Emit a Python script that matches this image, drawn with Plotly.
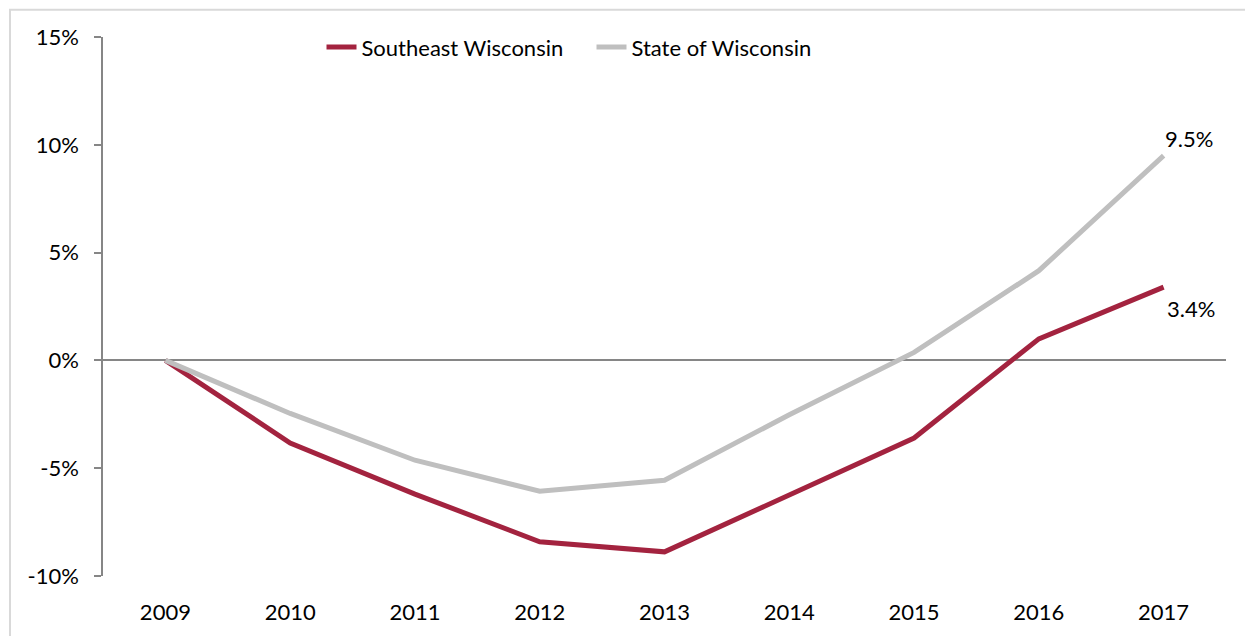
import plotly.graph_objects as go

years = ["2009", "2010", "2011", "2012", "2013", "2014", "2015", "2016", "2017"]
southeast = [0.0, -3.83, -6.2, -8.41, -8.88, -6.26, -3.6, 1.0, 3.4]
state = [0.0, -2.46, -4.63, -6.07, -5.56, -2.52, 0.37, 4.16, 9.5]
y_ticks = [-10, -5, 0, 5, 10, 15]
y_tick_labels = ["-10%", "-5%", "0%", "5%", "10%", "15%"]
end_labels = ["9.5%", "3.4%"]

RED = "#A3233F"
GRAY = "#BFBFBF"
FONT = "Lato"

fig = go.Figure()
fig.add_trace(go.Scatter(x=years, y=southeast, mode="lines", name="Southeast Wisconsin",
                         line=dict(color=RED, width=5)))
fig.add_trace(go.Scatter(x=years, y=state, mode="lines", name="State of Wisconsin",
                         line=dict(color=GRAY, width=5)))

last = len(years) - 1  # category index for annotations
fig.add_annotation(x=last, y=state[-1], text=end_labels[0], showarrow=False,
                   xanchor="left", yanchor="bottom", xshift=-1, yshift=2,
                   font=dict(family=FONT, size=22, color="black"))
fig.add_annotation(x=last, y=southeast[-1], text=end_labels[1], showarrow=False,
                   xanchor="left", yanchor="top", xshift=1, yshift=-6,
                   font=dict(family=FONT, size=22, color="black"))

# chart border (extends past right/bottom edge like the reference)
fig.add_shape(type="rect", xref="paper", yref="paper",
              x0=-0.0828, x1=1.06, y0=-0.2, y1=1.0505,
              line=dict(color="#D9D9D9", width=2), fillcolor="rgba(0,0,0,0)", layer="below")

fig.update_layout(
    width=1245, height=628,
    margin=dict(l=95, r=27, t=29, b=60),
    paper_bgcolor="white", plot_bgcolor="white",
    font=dict(family=FONT, size=22, color="black"),
    showlegend=True,
    legend=dict(orientation="h", x=0.435, xanchor="center", y=0.981, yanchor="middle",
                font=dict(family=FONT, size=22, color="black"),
                bgcolor="rgba(0,0,0,0)", entrywidth=225, entrywidthmode="pixels"),
    xaxis=dict(type="category", range=[-0.5, len(years) - 0.5],
               showgrid=False, showline=False, zeroline=False,
               ticks="", ticklabelstandoff=21,
               tickfont=dict(family=FONT, size=22, color="black")),
    yaxis=dict(range=[-10, 15], tickvals=y_ticks, ticktext=y_tick_labels,
               showgrid=False, showline=True, linecolor="#868686", linewidth=1.5,
               ticks="outside", ticklen=7, tickcolor="#868686", tickwidth=1.5,
               zeroline=True, zerolinecolor="#868686", zerolinewidth=1.5,
               ticklabelstandoff=11,
               tickfont=dict(family=FONT, size=22, color="black")),
)

fig.write_html("out.html")
